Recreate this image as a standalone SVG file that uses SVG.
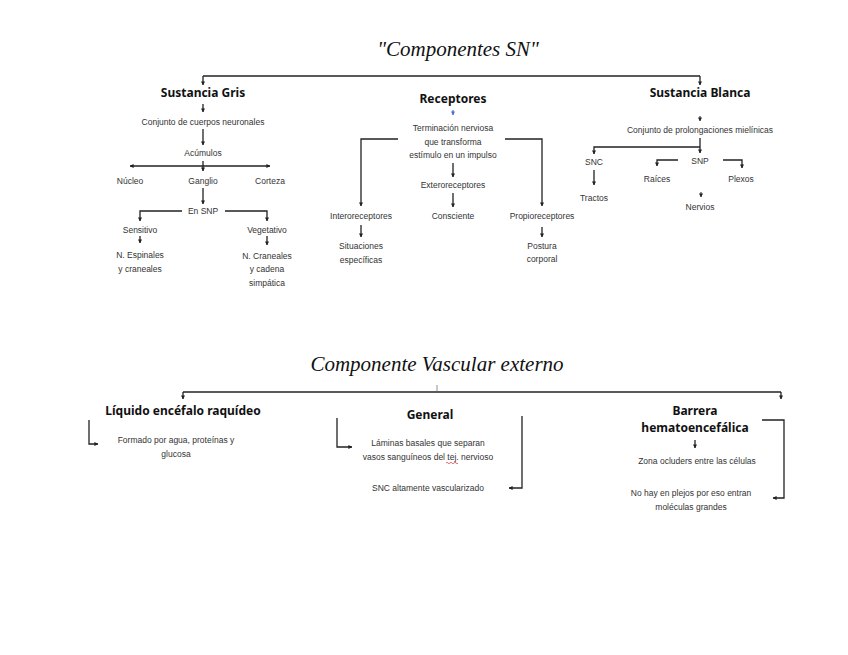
<svg xmlns="http://www.w3.org/2000/svg" width="848" height="655" viewBox="0 0 848 655">
<defs>
<marker id="ah" viewBox="0 0 10 10" refX="9" refY="5" markerWidth="4" markerHeight="4" orient="auto-start-reverse" markerUnits="userSpaceOnUse">
<path d="M0,0 L10,5 L0,10 z" fill="#222"/>
</marker>
<marker id="ahb" viewBox="0 0 10 10" refX="9" refY="5" markerWidth="4" markerHeight="4" orient="auto" markerUnits="userSpaceOnUse">
<path d="M0,0 L10,5 L0,10 z" fill="#4a6fd0"/>
</marker>
</defs>
<style>
.t{font-family:"Liberation Serif",serif;font-style:italic;font-size:21px;fill:#111;text-anchor:middle}
.h{font-family:"Noto Sans",sans-serif;font-weight:bold;font-size:12px;fill:#111;text-anchor:middle}
.s{font-family:"Liberation Sans",sans-serif;font-size:8.5px;fill:#333;text-anchor:middle}
.l{fill:none;stroke:#222;stroke-width:1.3}
.a{fill:none;stroke:#222;stroke-width:1.3;marker-end:url(#ah)}
</style>
<rect width="848" height="655" fill="#fff"/>

<g id="connectors">
<!-- top -->
<path class="l" d="M203,76 H700"/>
<path class="a" d="M203,76 V85"/>
<path class="a" d="M700,76 V85"/>
<!-- Sustancia Gris -->
<path class="a" d="M203,104 V112"/>
<path class="a" d="M203,129 V145"/>
<path class="a" d="M203,166 H130"/>
<path class="a" d="M203,166 H270"/>
<path class="a" d="M203,161 V171"/>
<path class="a" d="M203,188 V204"/>
<path class="a" d="M182,211 H140 V221"/>
<path class="a" d="M225,211 H267 V221"/>
<path class="a" d="M140,236 V243"/>
<path class="a" d="M267,236 V245"/>
<!-- Receptores -->
<path fill="none" stroke="#4a6fd0" stroke-width="1.2" marker-end="url(#ahb)" d="M453,110 V115"/>
<path class="a" d="M398,139 H361 V206"/>
<path class="a" d="M505,139 H542 V206"/>
<path class="a" d="M453,163 V177"/>
<path class="a" d="M453,193 V207"/>
<path class="a" d="M361,225 V237"/>
<path class="a" d="M542,227 V237"/>
<!-- Sustancia Blanca -->
<path fill="none" stroke="#222" stroke-width="1" marker-end="url(#ah)" d="M700,116 V121"/>
<path class="a" d="M700,138 V153"/>
<path class="a" d="M700,147 H594 V154"/>
<path class="a" d="M678,160 H657 V166"/>
<path class="a" d="M723,160 H742 V168"/>
<path class="a" d="M594,170 V185"/>
<path fill="none" stroke="#222" stroke-width="1" marker-end="url(#ah)" d="M701,192 V197"/>
<!-- Vascular -->
<path fill="none" stroke="#777" stroke-width="0.8" d="M437,385 V391"/>
<path class="l" d="M183,392 H781" stroke="#444"/>
<path class="a" d="M183,392 V399"/>
<path class="a" d="M781,392 V399"/>
<path class="a" d="M89,420 V444 H98"/>
<path class="a" d="M337,418 V447 H352"/>
<path class="a" d="M522,416 V488 H509"/>
<path class="a" d="M695,440 V448"/>
<path class="a" d="M762,420 H784 V498 H773"/>
</g>

<g id="title1"><text class="t" x="458" y="56">"Componentes SN"</text></g>

<g id="sustancia-gris"><text class="h" x="203" y="97">Sustancia Gris</text></g>
<g id="conjunto-cuerpos"><text class="s" x="203" y="125">Conjunto de cuerpos neuronales</text></g>
<g id="acumulos"><text class="s" x="203" y="156">Acúmulos</text></g>
<g id="nucleo"><text class="s" x="130" y="184">Núcleo</text></g>
<g id="ganglio"><text class="s" x="203" y="184">Ganglio</text></g>
<g id="corteza"><text class="s" x="270" y="184">Corteza</text></g>
<g id="en-snp"><text class="s" x="203" y="214">En SNP</text></g>
<g id="sensitivo"><text class="s" x="140" y="233">Sensitivo</text></g>
<g id="vegetativo"><text class="s" x="267" y="233">Vegetativo</text></g>
<g id="n-espinales"><text class="s" x="140" y="258">N. Espinales</text><text class="s" x="140" y="272">y craneales</text></g>
<g id="n-craneales"><text class="s" x="267" y="259">N. Craneales</text><text class="s" x="267" y="272">y cadena</text><text class="s" x="267" y="286">simpática</text></g>

<g id="receptores"><text class="h" x="453" y="103">Receptores</text></g>
<g id="terminacion"><text class="s" x="453" y="131">Terminación nerviosa</text><text class="s" x="453" y="145">que transforma</text><text class="s" x="453" y="158">estímulo en un impulso</text></g>
<g id="exteroreceptores"><text class="s" x="453" y="188">Exteroreceptores</text></g>
<g id="interoreceptores"><text class="s" x="361" y="219">Interoreceptores</text></g>
<g id="consciente"><text class="s" x="453" y="219">Consciente</text></g>
<g id="propioreceptores"><text class="s" x="542" y="219">Propioreceptores</text></g>
<g id="situaciones"><text class="s" x="361" y="249">Situaciones</text><text class="s" x="361" y="263">específicas</text></g>
<g id="postura"><text class="s" x="542" y="249">Postura</text><text class="s" x="542" y="262">corporal</text></g>

<g id="sustancia-blanca"><text class="h" x="700" y="97">Sustancia Blanca</text></g>
<g id="conjunto-prolongaciones"><text class="s" x="700" y="133">Conjunto de prolongaciones mielínicas</text></g>
<g id="snc"><text class="s" x="594" y="165">SNC</text></g>
<g id="snp"><text class="s" x="700" y="164">SNP</text></g>
<g id="raices"><text class="s" x="657" y="182">Raíces</text></g>
<g id="plexos"><text class="s" x="741" y="182">Plexos</text></g>
<g id="tractos"><text class="s" x="594" y="201">Tractos</text></g>
<g id="nervios"><text class="s" x="700" y="210">Nervios</text></g>

<g id="title2"><text class="t" x="437" y="371">Componente Vascular externo</text></g>

<g id="lcr"><text class="h" x="183" y="415">Líquido encéfalo raquídeo</text></g>
<g id="formado"><text class="s" x="176" y="443">Formado por agua, proteínas y</text><text class="s" x="176" y="457">glucosa</text></g>

<g id="general"><text class="h" x="430" y="419">General</text></g>
<g id="laminas"><text class="s" x="428" y="446">Láminas basales que separan</text><text class="s" x="428" y="460">vasos sanguíneos del tej. nervioso</text>
<path d="M446,463 q1,-1.5 2,0 t2,0 t2,0 t2,0 t2,0 t2,0" fill="none" stroke="#d33" stroke-width="0.7"/></g>
<g id="snc-vasc"><text class="s" x="428" y="491">SNC altamente vascularizado</text></g>

<g id="barrera"><text class="h" x="695" y="415">Barrera</text><text class="h" x="695" y="432">hematoencefálica</text></g>
<g id="zona"><text class="s" x="697" y="464">Zona ocluders entre las células</text></g>
<g id="no-hay"><text class="s" x="691" y="496">No hay en plejos por eso entran</text><text class="s" x="691" y="510">moléculas grandes</text></g>
</svg>
